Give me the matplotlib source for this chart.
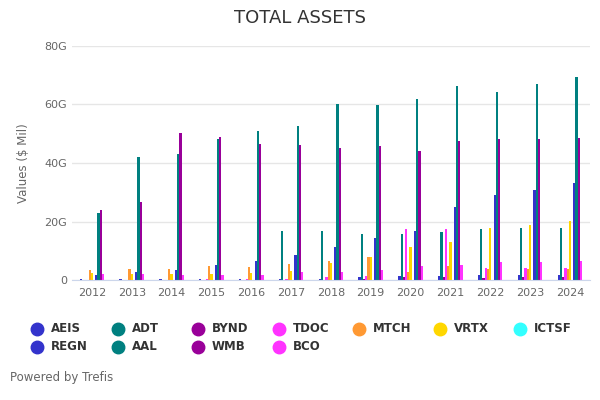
import numpy as np
import matplotlib
matplotlib.use("Agg")
import matplotlib.pyplot as plt
from matplotlib.lines import Line2D

years = [str(y) for y in range(2012, 2025)]
nan = np.nan

# total assets, in G (thousands of $ Mil)
aeis = [0.35, 0.4, 0.4, 0.3, 0.35, 0.35, 0.4, 1.0, 1.4, 1.4, 1.7, 1.7, 1.7]
adt = [nan, nan, nan, nan, nan, 16.8, 16.8, 15.8, 15.8, 16.5, 17.5, 17.9, 17.9]
bynd = [nan, nan, nan, nan, nan, nan, nan, 0.4, 0.9, 1.0, 0.7, 1.0, 1.0]
tdoc = [nan, nan, nan, 0.2, 0.3, 0.35, 1.0, 1.4, 17.5, 17.5, 4.1, 4.1, 4.1]
mtch = [3.4, 3.8, 3.8, 4.8, 4.5, 5.5, 6.5, 7.9, 2.75, 4.8, 3.8, 3.8, 3.8]
vrtx = [2.4, 2.1, 2.1, 2.1, 2.4, 3.1, 5.8, 7.9, 11.3, 13.1, 17.9, 18.9, 20.3]
ictsf = [nan] * 13
regn = [1.7, 2.75, 3.4, 5.2, 6.5, 8.6, 11.3, 14.4, 16.8, 25.1, 28.9, 30.9, 33.0]
aal = [23.0, 41.9, 43.0, 48.1, 50.9, 52.6, 60.1, 59.8, 61.9, 66.3, 64.3, 67.0, 69.4]
wmb = [24.1, 26.8, 50.2, 48.8, 46.4, 46.0, 45.0, 45.7, 44.0, 47.4, 48.1, 48.1, 48.5]
bco = [2.1, 2.1, 1.7, 1.7, 1.7, 2.75, 2.75, 3.4, 4.8, 5.2, 6.2, 6.2, 6.5]

# order of bars inside each year group
bar_series = [
    ("AEIS", aeis, "#3333cc"),
    ("ADT", adt, "#008080"),
    ("BYND", bynd, "#990099"),
    ("TDOC", tdoc, "#ff33ff"),
    ("MTCH", mtch, "#ff9933"),
    ("VRTX", vrtx, "#ffd700"),
    ("ICTSF", ictsf, "#33ffff"),
    ("REGN", regn, "#3333cc"),
    ("AAL", aal, "#008080"),
    ("WMB", wmb, "#990099"),
    ("BCO", bco, "#ff33ff"),
]
colors = {name: c for name, _, c in bar_series}
legend_rows = [
    ["AEIS", "ADT", "BYND", "TDOC", "MTCH", "VRTX", "ICTSF"],
    ["REGN", "AAL", "WMB", "BCO"],
]

fig = plt.figure(figsize=(6, 4), dpi=100)
ax = fig.add_axes([0.12, 0.30, 0.863, 0.585])

x = np.arange(len(years))
slot = 0.056
n = len(bar_series)
for i, (name, vals, color) in enumerate(bar_series):
    ax.bar(x + (i - (n - 1) / 2) * slot, vals, width=slot,
           color=color, linewidth=0)

ax.set_xlim(-0.5, len(years) - 0.5)
ax.set_ylim(0, 80)
ax.set_yticks([0, 20, 40, 60, 80])
ax.set_yticklabels(["0", "20G", "40G", "60G", "80G"])
ax.set_xticks(x)
ax.set_xticklabels(years)
ax.tick_params(axis="both", length=0, labelsize=8, labelcolor="#666666")
ax.tick_params(axis="x", pad=6)
ax.grid(axis="y", color="#e6e6e6", linewidth=1)
ax.set_axisbelow(True)
for side in ["top", "right", "left"]:
    ax.spines[side].set_visible(False)
ax.spines["bottom"].set_color("#ccd6eb")
ax.set_ylabel("Values ($ Mil)", color="#666666", fontsize=8.5, labelpad=10)

fig.text(0.5, 0.955, "TOTAL ASSETS", ha="center", va="center",
         fontsize=13, color="#333333")

# legend laid out like the original: 7 columns, 2 rows
for r, row in enumerate(legend_rows):
    y = 1 - (329 + r * 18) / 400
    for c, name in enumerate(row):
        xm = (37 + c * 80.5) / 600
        fig.add_artist(Line2D([xm], [y], marker="o", markersize=9,
                              color=colors[name], linestyle="none",
                              transform=fig.transFigure))
        fig.text(xm + 14 / 600, y, name, ha="left", va="center",
                 fontsize=8.5, fontweight="bold", color="#333333")

fig.text(10 / 600, 1 - 378 / 400, "Powered by Trefis", ha="left",
         va="center", fontsize=8.5, color="#666666")

fig.savefig("out.png", dpi=100)
